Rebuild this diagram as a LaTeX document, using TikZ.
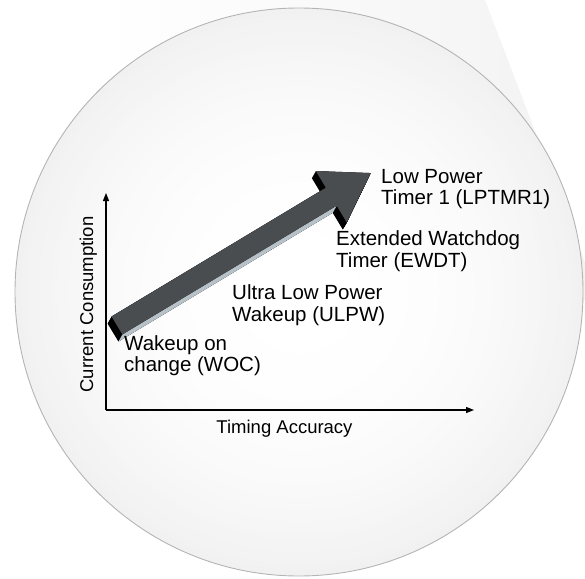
\documentclass[tikz,border=0pt]{standalone}
\usepackage{fontspec}
\setmainfont{Liberation Sans}
\usepackage{tikz}
\usetikzlibrary{arrows.meta, positioning}

\definecolor{arrowgray}{RGB}{74,77,80}
\definecolor{undergray}{RGB}{182,193,200}
\definecolor{rimgray}{RGB}{180,180,180}

% outline of the big arrow, along its own axis
\newcommand{\bigarrowpath}{(0,-10.5) -- (250,-10.5) -- (250,-30) -- (296,0) -- (250,30) -- (250,10.5) -- (0,10.5) -- cycle}

\begin{document}
\begin{tikzpicture}[x=1pt, y=-1pt,
    lbl/.style={anchor=base west, align=left, inner sep=0pt,
                font=\fontsize{20.5}{21.5}\selectfont},
    axlbl/.style={inner sep=0pt, font=\fontsize{18.5}{20}\selectfont},
    axis/.style={line width=1.3pt, -{Triangle[length=8pt, width=6pt]}},
    arrowpos/.style={shift={(117,325.5)}, rotate=31}
  ]
  \useasboundingbox (0,0) rectangle (585,578);

  % zoom wedge, fading to the left
  \begin{scope}
    \clip (100,0) -- (485,0) -- (585,262) -- (585,300) -- (100,300) -- cycle;
    \foreach \i in {0,...,24} {
      \pgfmathsetmacro\shadeval{5*\i/24}
      \fill[black!\shadeval] ({100+20*\i},0) rectangle ({121+20*\i},300);
    }
  \end{scope}

  % lens, lighter in the middle
  \foreach \r in {284,278,...,8} {
    \pgfmathsetmacro\shadeval{5.5*(\r/284)^2.5}
    \fill[black!\shadeval] (299,292) circle (\r);
  }
  \draw[rimgray, line width=0.9pt] (299,292) circle (284);

  % axes
  \coordinate (origin) at (106,410);
  \coordinate (ytop) at (106,193);
  \coordinate (xend) at (474,410);
  \draw[axis] (origin) -- (ytop);
  \draw[axis] (origin) -- (xend);
  \node[axlbl, anchor=base] (xlab) at (284.5,433) {Timing Accuracy};
  \node[axlbl, anchor=base, rotate=90] (ylab) at (93,304.5) {Current Consumption};

  % big 3d arrow
  \foreach \s in {0,0.05,...,1.01}
    \fill[black, shift={({117-4*\s},{325.5+7*\s})}, rotate=31] \bigarrowpath;
  \fill[undergray, arrowpos] (0,10.5) -- (250,10.5) -- (243,14.5) -- (-7,14.5) -- cycle;
  \fill[arrowgray, arrowpos] \bigarrowpath;

  % timers
  \node[lbl] (lptmr) at (381,204.5) {Low Power\\Timer 1 (LPTMR1)};
  \node[lbl] (ewdt) at (336,267) {Extended Watchdog\\Timer (EWDT)};
  \node[lbl] (ulpw) at (232,321) {Ultra Low Power\\Wakeup (ULPW)};
  \node[lbl] (woc) at (124,371.5) {Wakeup on\\change (WOC)};
\end{tikzpicture}
\end{document}
